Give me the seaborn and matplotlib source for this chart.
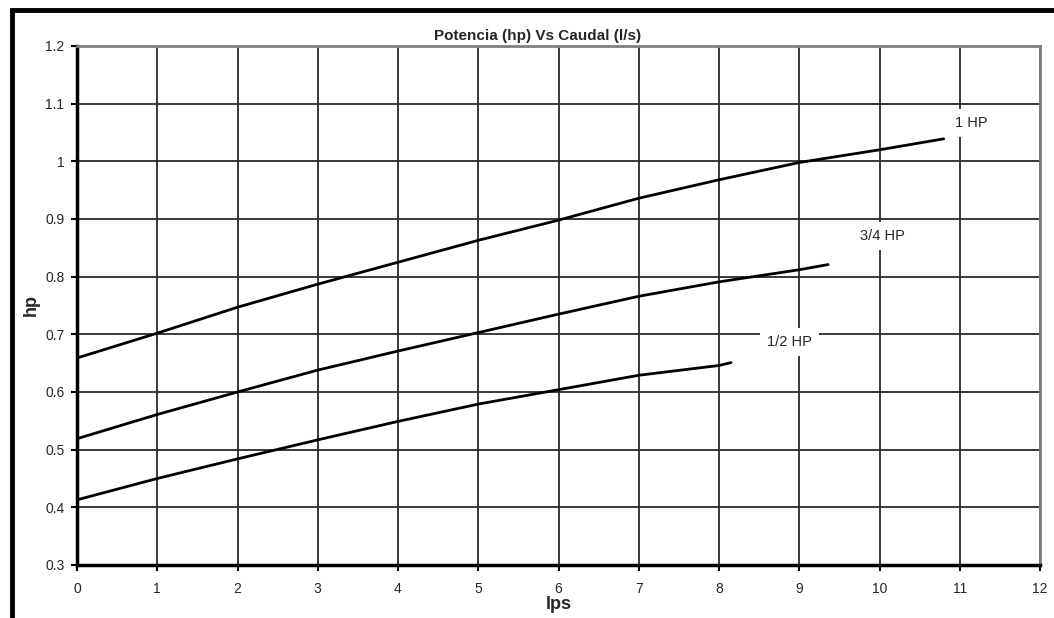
import numpy as np
import pandas as pd
import seaborn as sns
import matplotlib.pyplot as plt
from matplotlib.patches import Rectangle

sns.set_style('white')
plt.rcParams['font.family'] = ['Liberation Sans', 'DejaVu Sans']

# curve data (lps vs hp)
lps_1 = [0, 1, 2, 3, 4, 5, 6, 7, 8, 9, 10, 10.8]
hp_1 = [0.659, 0.702, 0.747, 0.787, 0.825, 0.863, 0.898, 0.936, 0.968, 0.998, 1.020, 1.039]

lps_34 = [0, 1, 2, 3, 4, 5, 6, 7, 8, 9, 9.36]
hp_34 = [0.519, 0.561, 0.600, 0.638, 0.671, 0.703, 0.735, 0.766, 0.791, 0.812, 0.821]

lps_12 = [0, 1, 2, 3, 4, 5, 6, 7, 8, 8.15]
hp_12 = [0.413, 0.450, 0.484, 0.517, 0.549, 0.579, 0.604, 0.629, 0.646, 0.651]

curve_names = ['1 HP', '3/4 HP', '1/2 HP']
label_pos = [(11.15, 1.067), (10.04, 0.871), (8.88, 0.686)]

x_ticks = list(range(0, 13))
y_ticks = [0.3, 0.4, 0.5, 0.6, 0.7, 0.8, 0.9, 1.0, 1.1, 1.2]
y_tick_labels = ['0.3', '0.4', '0.5', '0.6', '0.7', '0.8', '0.9', '1', '1.1', '1.2']

df = pd.concat([
    pd.DataFrame({'lps': lps_1, 'hp': hp_1, 'curva': curve_names[0]}),
    pd.DataFrame({'lps': lps_34, 'hp': hp_34, 'curva': curve_names[1]}),
    pd.DataFrame({'lps': lps_12, 'hp': hp_12, 'curva': curve_names[2]}),
])

fig = plt.figure(figsize=(10.54, 6.18), dpi=100)
ax = fig.add_axes([77 / 1054, 1 - 565 / 618, 963 / 1054, 519 / 618])

sns.lineplot(data=df, x='lps', y='hp', hue='curva', units='curva', estimator=None,
             sort=False, palette=['black'] * 3, linewidth=2, legend=False, ax=ax, zorder=3)

ax.set_xlim(0, 12)
ax.set_ylim(0.3, 1.2)
ax.set_xticks(x_ticks)
ax.set_yticks(y_ticks)
ax.set_yticklabels(y_tick_labels)
ax.grid(True, color='#2a2a2a', linewidth=1.3)
ax.set_axisbelow(True)
ax.tick_params(axis='both', direction='out', length=4, width=1.5, color='black',
               labelsize=10, bottom=True, left=True)
ax.tick_params(axis='x', pad=8)
ax.tick_params(axis='y', pad=5)

for side in ['left', 'bottom']:
    ax.spines[side].set_color('black')
    ax.spines[side].set_linewidth(2.5)
for side in ['top', 'right']:
    ax.spines[side].set_color('#808080')
    ax.spines[side].set_linewidth(2)

ax.set_xlabel('lps', fontsize=13, fontweight='bold', labelpad=0)
ax.set_ylabel('hp', fontsize=13, fontweight='bold', labelpad=4)

for name, (lx, ly) in zip(curve_names, label_pos):
    ax.text(lx, ly, name, fontsize=10.5, ha='center', va='center', zorder=4,
            bbox=dict(facecolor='white', edgecolor='none', pad=5))

fig.text(538 / 1054, 1 - 36 / 618, 'Potencia (hp) Vs Caudal (l/s)', fontsize=11,
         fontweight='bold', ha='center', va='center')

# outer chart border (cut off on right and bottom)
fig.patches.append(Rectangle((12 / 1054, -0.1), 1.2, 1.1 - 10 / 618, transform=fig.transFigure,
                             fill=False, edgecolor='black', linewidth=3.5, zorder=0))

fig.savefig('out.png', dpi=100)
